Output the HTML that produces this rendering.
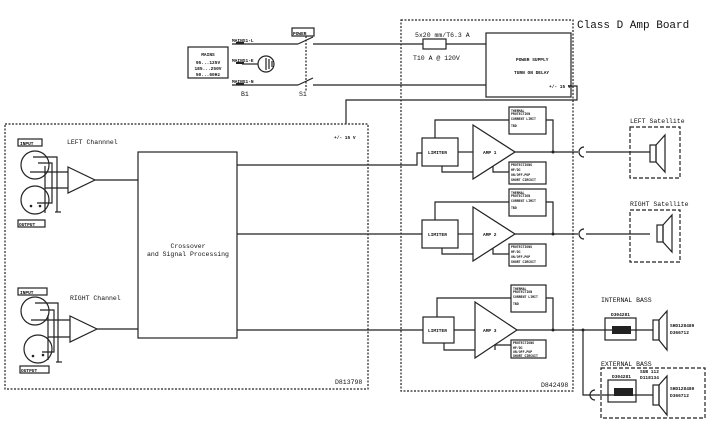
<!DOCTYPE html>
<html><head><style>
html,body{margin:0;padding:0;background:#fff;}
svg{display:block;}
text{font-family:"Liberation Mono",monospace;fill:#111;}
</style></head><body>
<svg width="708" height="426" viewBox="0 0 708 426" xmlns="http://www.w3.org/2000/svg">
<g fill="none" stroke="#222" stroke-width="1.2">
<!-- dashed boxes -->
<rect x="5" y="124" width="363" height="265" stroke-dasharray="2,1.5"/>
<rect x="401" y="20" width="172" height="371" stroke-dasharray="2,1.5"/>
<rect x="630" y="127" width="50" height="51" stroke-dasharray="4,2"/>
<rect x="630" y="210" width="50" height="52" stroke-dasharray="4,2"/>
<rect x="601" y="368" width="104" height="50" stroke-dasharray="4,2"/>
<!-- mains -->
<rect x="188" y="47" width="40" height="31"/>
<rect x="292" y="28" width="22" height="8"/>
<line x1="232" y1="44" x2="298" y2="44"/>
<line x1="232" y1="85" x2="298" y2="85"/>
<line x1="298" y1="44" x2="313" y2="37"/><line x1="298" y1="85" x2="313" y2="78"/>
<line x1="306" y1="36" x2="306" y2="92" stroke-dasharray="2,1.5"/>
<line x1="313" y1="44" x2="486" y2="44"/>
<line x1="313" y1="85" x2="486" y2="85"/>
<line x1="242" y1="64" x2="258" y2="64"/>
<circle cx="266" cy="64" r="8"/>
<line x1="266" y1="58" x2="266" y2="70"/><line x1="269" y1="59" x2="269" y2="69"/><line x1="272" y1="61" x2="272" y2="67"/>
<rect x="423" y="39" width="23" height="10" fill="#fff"/>
<rect x="486" y="33" width="85" height="64"/>
<polyline points="568,86 577,86 577,100 346,100 346,124"/>
<!-- crossover -->
<rect x="138" y="152" width="99" height="186"/>
<polyline points="95,180 138,180"/>
<polyline points="97,329 138,329"/>
<polyline points="237,165 417,165 417,153 422,153"/>
<line x1="237" y1="234" x2="422" y2="234"/>
<line x1="237" y1="330" x2="423" y2="330"/>
<!-- left inputs -->
<rect x="18" y="139" width="24" height="7"/>
<rect x="18" y="220" width="27" height="7"/>
<circle cx="35" cy="165" r="14"/><circle cx="35" cy="200" r="14"/>
<polygon points="68,167 95,180 68,193"/>
<polyline points="33,157 57,157 57,212"/><polyline points="38,163 52,163 52,203 37,203"/>
<polyline points="30,172 68,172"/><line x1="45" y1="188" x2="68" y2="188"/><line x1="45" y1="166" x2="45" y2="213"/>
<line x1="55" y1="212" x2="61" y2="212"/>
<rect x="18" y="288" width="29" height="7"/>
<rect x="20" y="366" width="29" height="7"/>
<circle cx="35" cy="311" r="14"/><circle cx="38" cy="349" r="14"/>
<polygon points="70,316 97,329 70,342"/>
<polyline points="35,303 58,303 58,362"/><polyline points="40,310 54,310 54,352 42,352"/>
<polyline points="31,320 70,320"/><line x1="48" y1="337" x2="70" y2="337"/><line x1="48" y1="315" x2="48" y2="360"/>
<line x1="56" y1="362" x2="62" y2="362"/>
</g>
<g fill="#222"><circle cx="40" cy="206" r="1.3"/><circle cx="31" cy="206" r="1.3"/><circle cx="43" cy="355" r="1.3"/><circle cx="33" cy="356" r="1.3"/></g>
<g fill="none" stroke="#222" stroke-width="1.2">
<!-- amps -->
<g id="a1">
<rect x="422" y="138" width="36" height="28"/>
<polygon points="473,125 515,152 473,179"/>
<line x1="458" y1="152" x2="473" y2="152"/>
<rect x="509" y="107" width="37" height="27"/>
<rect x="509" y="162" width="37" height="22"/>
<polyline points="435,138 435,120 509,120"/>
<polyline points="546,120 553,120 553,152"/>
<polyline points="442,166 442,172 473,172"/>
<polyline points="493,166 493,172 509,172"/>
<line x1="515" y1="152" x2="578" y2="152"/>
<line x1="586" y1="152" x2="650" y2="152"/>
</g>
<use href="#a1" transform="translate(0,82)"/>
<rect x="423" y="317" width="31" height="26"/>
<polygon points="475,302 517,330 475,358"/>
<line x1="454" y1="330" x2="475" y2="330"/>
<rect x="511" y="285" width="35" height="27"/>
<rect x="511" y="340" width="35" height="18"/>
<polyline points="437,317 437,298 511,298"/>
<polyline points="546,298 553,298 553,330"/>
<polyline points="444,343 444,350 475,350"/>
<polyline points="495,350 495,345 511,345"/>
<line x1="517" y1="330" x2="653" y2="330"/>
<polyline points="583,330 583,395 593,395"/>
<line x1="593" y1="395" x2="653" y2="395"/>
<rect x="605" y="318" width="31" height="22"/>
<rect x="608" y="380" width="28" height="22"/>
<!-- jacks -->
<path d="M584,147 A5,5 0 0,0 584,157"/>
<path d="M584,229 A5,5 0 0,0 584,239"/>
<path d="M595,390 A5,5 0 0,0 595,400"/>
<!-- speakers -->
<rect x="650" y="145" width="6" height="17"/><polygon points="656,145 665,135 665,172 656,162"/>
<rect x="657" y="225" width="6" height="17"/><polygon points="663,225 672,215 672,252 663,242"/>
<rect x="653" y="320" width="6" height="20"/><polygon points="659,320 667,311 667,350 659,340"/>
<rect x="653" y="385" width="6" height="20"/><polygon points="659,385 667,376 667,415 659,405"/>
</g>
<g fill="#222"><circle cx="553" cy="152" r="1.5"/><circle cx="553" cy="234" r="1.5"/><circle cx="553" cy="330" r="1.5"/><circle cx="583" cy="330" r="1.5"/>
<rect x="612" y="326" width="19" height="8"/><rect x="614" y="388" width="19" height="8"/>
<rect x="236" y="42" width="8" height="2"/><rect x="236" y="62" width="8" height="2"/><rect x="236" y="83" width="8" height="2"/></g>
<!-- text -->
<text x="577" y="28" font-size="11">Class D Amp Board</text>
<g font-size="4.5" font-weight="bold">
<text x="208" y="56" text-anchor="middle">MAINS</text>
<text x="208" y="64" text-anchor="middle">95...125V</text>
<text x="208" y="70" text-anchor="middle">185...250V</text>
<text x="208" y="76" text-anchor="middle">50...60Hz</text>
<text x="232" y="42">MAINS1-L</text><text x="232" y="62">MAINS1-E</text><text x="232" y="83">MAINS1-N</text>
<text x="293" y="35">POWER</text>
<text x="516" y="61">POWER SUPPLY</text><text x="514" y="74">TURN ON DELAY</text>
<text x="549" y="88">+/- 15 V</text>
<text x="334" y="139">+/- 15 V</text>
<text x="20" y="145">INPUT</text><text x="19" y="226">OUTPUT</text>
<text x="20" y="294">INPUT</text><text x="21" y="372">OUTPUT</text>
<text x="428" y="154">LIMITER</text><text x="428" y="236">LIMITER</text><text x="428" y="332">LIMITER</text>
<text x="483" y="154">AMP 1</text><text x="483" y="236">AMP 2</text><text x="483" y="332">AMP 3</text>
<text x="611" y="316">D304281</text><text x="612" y="378">D304281</text>
<text x="640" y="373">SUB 112</text><text x="640" y="379">D118134</text>
<text x="670" y="327">SHD128480</text><text x="670" y="334">D366712</text>
<text x="670" y="390">SHD128480</text><text x="670" y="397">D366712</text>
</g>
<g font-size="3.2" font-weight="bold">
<text x="511" y="112">THERMAL</text><text x="511" y="115">PROTECTION</text><text x="511" y="120">CURRENT LIMIT</text><text x="511" y="127">TBD</text>
<text x="511" y="166">PROTECTIONS</text><text x="511" y="171">HF/DC</text><text x="511" y="176">ON/OFF-POP</text><text x="511" y="181">SHORT CIRCUIT</text>
<text x="511" y="194">THERMAL</text><text x="511" y="197">PROTECTION</text><text x="511" y="202">CURRENT LIMIT</text><text x="511" y="209">TBD</text>
<text x="511" y="248">PROTECTIONS</text><text x="511" y="253">HF/DC</text><text x="511" y="258">ON/OFF-POP</text><text x="511" y="263">SHORT CIRCUIT</text>
<text x="513" y="290">THERMAL</text><text x="513" y="293">PROTECTION</text><text x="513" y="298">CURRENT LIMIT</text><text x="513" y="305">TBD</text>
<text x="513" y="344">PROTECTIONS</text><text x="513" y="349">HF/DC</text><text x="513" y="353">ON/OFF-POP</text><text x="513" y="357">SHORT CIRCUIT</text>
</g>
<g font-size="6.5">
<text x="415" y="37">5x20 mm/T6.3 A</text>
<text x="413" y="60">T10 A @ 120V</text>
<text x="241" y="96">B1</text><text x="299" y="96">S1</text>
<text x="67" y="144">LEFT Channnel</text>
<text x="70" y="300">RIGHT Channel</text>
<text x="188" y="248" text-anchor="middle">Crossover</text>
<text x="188" y="256" text-anchor="middle">and Signal Processing</text>
<text x="630" y="123">LEFT Satellite</text>
<text x="630" y="206">RIGHT Satellite</text>
<text x="601" y="302">INTERNAL BASS</text>
<text x="601" y="366">EXTERNAL BASS</text>
<text x="335" y="384">D813798</text>
<text x="541" y="387">D842498</text>
</g>
</svg>
</body></html>
